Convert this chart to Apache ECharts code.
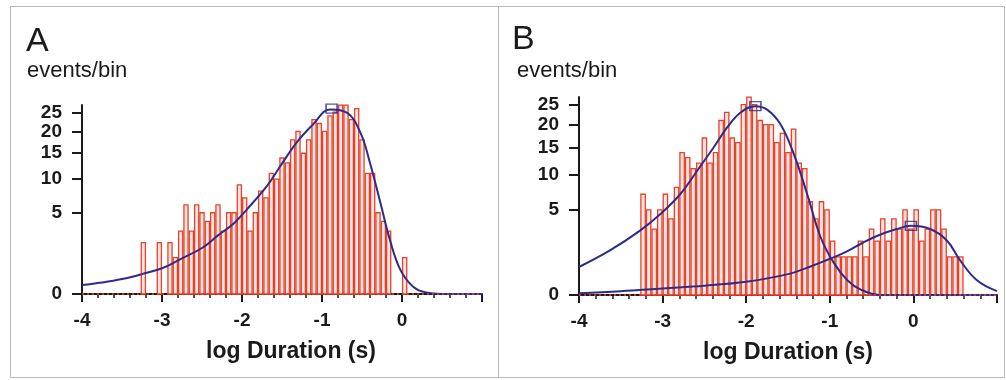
<!DOCTYPE html>
<html>
<head>
<meta charset="utf-8">
<script src="https://cdn.jsdelivr.net/npm/echarts@6/dist/echarts.min.js"></script>
<style>
html, body { margin: 0; padding: 0; background: #fff; }
#chart { width: 1006px; height: 380px; }
</style>
</head>
<body>
<div id="chart"></div>
<script>
// bins are 1/15 decade wide, first bin index k (edge = k * binWidth)
var binWidth = 1 / 15;

// panel A counts, bins k = -49 .. 0
var binStartA = -49;
var countsA = [2, 0, 0, 2, 0, 2, 1, 3, 6, 3,
               6, 5, 4, 5, 6, 3, 5, 5, 9, 7,
               3, 5, 8, 7, 11, 10, 14, 13, 18, 20,
               15, 18, 23, 22, 20, 24, 25, 27, 27, 23,
               26, 18, 11, 11, 5, 4, 3, 0, 0, 1];

// panel B counts, bins k = -49 .. 8
var binStartB = -49;
var countsB = [7, 5, 3, 5, 7, 4, 8, 14, 13, 11,
               12, 17, 12, 14, 21, 23, 17, 16, 25, 27,
               25, 21, 20, 20, 16, 18, 14, 19, 12, 11,
               6, 4, 6, 5, 2, 1, 1, 1, 1, 2,
               1, 3, 2, 4, 2, 4, 3, 5, 3, 5,
               2, 3, 5, 5, 3, 1, 1, 1];

// fitted curves: [log duration, events/bin]
var fitA = [[-4, 0.06], [-3.75, 0.1], [-3.5, 0.17], [-3.25, 0.3], [-3, 0.5],
            [-2.78, 0.9], [-2.5, 1.6], [-2.3, 2.6], [-2.1, 3.8], [-1.94, 5.4],
            [-1.69, 8.8], [-1.52, 12.4], [-1.32, 17.3], [-1.11, 21.8], [-0.9, 25.8],
            [-0.69, 24.9], [-0.52, 19.7], [-0.4, 13], [-0.27, 6.3], [-0.15, 2.2],
            [-0.02, 0.44], [0.14, 0.04], [0.3, 0.002], [0.6, 0], [1, 0]];
var fitB1 = [[-4, 0.54], [-3.63, 1.37], [-3.27, 2.86], [-3.03, 4.5], [-2.79, 7],
             [-2.57, 11], [-2.39, 15], [-2.23, 19.3], [-2.07, 22.9], [-1.89, 24.6],
             [-1.75, 23.7], [-1.59, 20.1], [-1.43, 13.7], [-1.27, 7], [-1.11, 2.3],
             [-0.95, 0.7], [-0.79, 0.15], [-0.63, 0.02], [-0.4, 0], [1, 0]];
var fitB2 = [[-4, 0.002], [-3.5, 0.01], [-3, 0.03], [-2.5, 0.06], [-2, 0.12],
             [-1.5, 0.3], [-1.2, 0.6], [-1, 0.9], [-0.8, 1.3], [-0.6, 1.9],
             [-0.4, 2.5], [-0.2, 3], [-0.03, 3.3], [0.2, 3], [0.4, 2.05],
             [0.56, 0.82], [0.76, 0.15], [1, 0.01]];
var peakA = [[-0.88, 26]];
var peaksB = [[-1.89, 24.6], [-0.03, 3.3]];

var yTicks = [0, 5, 10, 15, 20, 25];

var NAVY = '#2c2c8c';
var RED = '#e8402c';
var FILL = '#fde6e0';
var INK = '#1a1a1a';
var FONT = 'Liberation Sans';

// y axis is square-root scaled
function sq(c) { return Math.sqrt(c); }

function binData(start, counts) {
    return counts.map(function (c, i) {
        return [(start + i) * binWidth, (start + i + 1) * binWidth, sq(c)];
    });
}
function curveData(pts) {
    return pts.map(function (p) { return [p[0], sq(p[1])]; });
}

function renderBar(params, api) {
    var h = api.value(2);
    if (h <= 0) return;
    var p0 = api.coord([api.value(0), h]);
    var p1 = api.coord([api.value(1), 0]);
    return {
        type: 'rect',
        shape: { x: p0[0] + 0.6, y: p0[1], width: p1[0] - p0[0] - 1.2, height: p1[1] - p0[1] },
        style: { fill: FILL, stroke: RED, lineWidth: 1.3 }
    };
}

function makeX(i, namePad) {
    return {
        type: 'value', gridIndex: i, min: -4, max: 1, interval: 1,
        axisLine: { onZero: false, lineStyle: { color: INK, width: 2 } },
        axisTick: { length: 8, lineStyle: { color: INK, width: 2 } },
        minorTick: { show: true, splitNumber: 5, length: 4, lineStyle: { color: INK, width: 1.5 } },
        splitLine: { show: false },
        axisLabel: {
            margin: 17, fontSize: 19, fontWeight: 'bold', color: INK, fontFamily: FONT,
            formatter: function (v) { return v >= 1 ? '' : String(v); }
        },
        name: 'log Duration (s)', nameLocation: 'middle', nameGap: 46,
        nameTextStyle: { fontSize: 23, fontWeight: 'bold', color: INK, fontFamily: FONT, padding: [0, 0, 0, namePad] }
    };
}

function makeY(i) {
    var vals = yTicks.map(sq);
    return {
        type: 'value', gridIndex: i, min: 0, max: 5.2,
        axisLine: { show: true, onZero: false, lineStyle: { color: INK, width: 2 } },
        axisTick: { show: true, length: 10, customValues: vals, lineStyle: { color: INK, width: 2 } },
        splitLine: { show: false },
        axisLabel: {
            customValues: vals, margin: 20, fontSize: 19, lineHeight: 14, hideOverlap: false,
            fontWeight: 'bold', color: INK, fontFamily: FONT,
            formatter: function (v) { return String(Math.round(v * v)); }
        }
    };
}

function barSeries(i, start, counts) {
    return {
        type: 'custom', xAxisIndex: i, yAxisIndex: i,
        renderItem: renderBar, encode: { x: [0, 1], y: 2 },
        data: binData(start, counts), z: 2,
        markLine: {
            silent: true, symbol: 'none', label: { show: false },
            lineStyle: { color: RED, type: [2, 3], width: 1.5 },
            data: [{ yAxis: 0 }]
        }
    };
}

function fitSeries(i, pts) {
    return {
        type: 'line', xAxisIndex: i, yAxisIndex: i, data: curveData(pts),
        smooth: 0.4, showSymbol: false, z: 3,
        lineStyle: { color: NAVY, width: 2 }
    };
}

function peakSeries(i, pts) {
    return {
        type: 'scatter', xAxisIndex: i, yAxisIndex: i, data: curveData(pts),
        symbol: 'rect', symbolSize: [11, 9], z: 4,
        itemStyle: { color: 'rgba(0,0,0,0)', borderColor: NAVY, borderWidth: 1.5 }
    };
}

var chart = echarts.init(document.getElementById('chart'));
chart.setOption({
    animation: false,
    grid: [
        { left: 82, top: 105, width: 400, height: 189 },
        { left: 579, top: 97, width: 418, height: 198 }
    ],
    xAxis: [makeX(0, 18), makeX(1, 0)],
    yAxis: [makeY(0), makeY(1)],
    series: [
        barSeries(0, binStartA, countsA),
        fitSeries(0, fitA),
        peakSeries(0, peakA),
        barSeries(1, binStartB, countsB),
        fitSeries(1, fitB1),
        fitSeries(1, fitB2),
        peakSeries(1, peaksB)
    ],
    graphic: [
        { type: 'rect', silent: true, shape: { x: 10.5, y: 6.5, width: 488, height: 371 },
          style: { fill: 'none', stroke: '#b8b8b8', lineWidth: 1 } },
        { type: 'rect', silent: true, shape: { x: 498.5, y: 6.5, width: 506, height: 371 },
          style: { fill: 'none', stroke: '#b8b8b8', lineWidth: 1 } },
        { type: 'text', left: 26, top: 25, style: { text: 'A', fontSize: 34, fontFamily: FONT, fill: INK } },
        { type: 'text', left: 27, top: 60, style: { text: 'events/bin', fontSize: 22, fontFamily: FONT, fill: INK } },
        { type: 'text', left: 512, top: 23, style: { text: 'B', fontSize: 34, fontFamily: FONT, fill: INK } },
        { type: 'text', left: 517, top: 60, style: { text: 'events/bin', fontSize: 22, fontFamily: FONT, fill: INK } }
    ]
});
</script>
</body>
</html>
